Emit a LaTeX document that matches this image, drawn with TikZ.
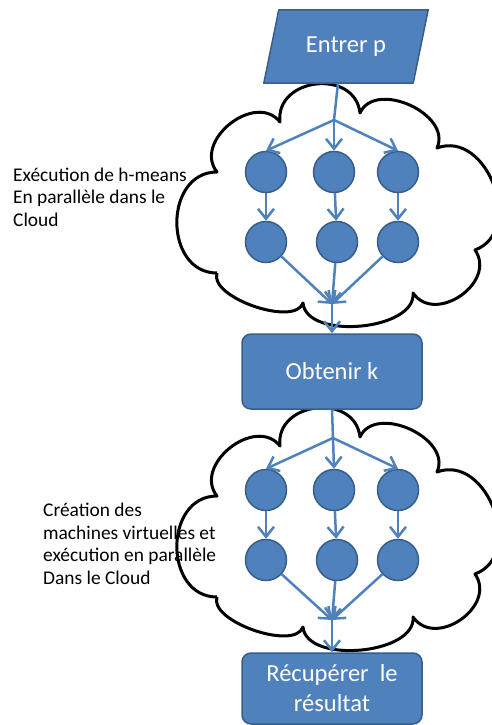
\documentclass[tikz,border=0pt]{standalone}
\usepackage{fontspec}
\setmainfont{Carlito}
\usetikzlibrary{arrows.meta,shapes.geometric}
\definecolor{ofblue}{HTML}{4F81BD}
\definecolor{ofdark}{HTML}{385D8A}
\newcommand\mycloud{%
  (217,273) to[bend left=90,looseness=1.36] (217,172)
  to[bend left=90,looseness=1.26] (280,122)
  to[bend left=90,looseness=1.43] (360,113)
  to[bend left=90,looseness=1.12] (437,148)
  to[bend left=90,looseness=1.26] (475,250)
  to[bend left=90,looseness=1.33] (413,293)
  to[bend left=90,looseness=0.87] (303,303)
  to[bend left=90,looseness=0.72] (217,273)}
\begin{document}
\begin{tikzpicture}[x=1pt,y=-1pt,
  box/.style={draw=ofdark, fill=ofblue, line width=1.5pt, rounded corners=9pt,
    minimum width=180pt, text=white, font=\fontsize{24.5}{30}\selectfont,
    align=center, inner sep=0pt},
  ball/.style={circle, draw=ofdark, fill=ofblue, line width=1.5pt,
    minimum size=41pt, inner sep=0pt},
  shapefill/.style={draw=ofdark, fill=ofblue, line width=1.5pt, line join=round},
  flow/.style={draw=ofblue, line width=2.5pt, -{Straight Barb[length=10pt,width=16pt]}},
  link/.style={draw=ofblue, line width=2.5pt},
  cloudline/.style={draw=black, line width=3pt, line join=round},
  note/.style={font=\fontsize{19.4}{22.5}\selectfont, align=left,
    inner sep=0pt, anchor=base west}]
\useasboundingbox (0,0) rectangle (491,725);

% labels
\node[note] (t1) at (13,226) {Exécution de h-means\\En parallèle dans le\\Cloud};
\node[note] (t2) at (43,584) {Création des\\machines virtuelles et\\exécution en parallèle\\Dans le Cloud};

% clouds
\draw[cloudline] \mycloud;
\begin{scope}[shift={(0,324)}]
\draw[cloudline] \mycloud;
\end{scope}

% input parallelogram
\node[inner sep=0pt, minimum width=149pt, minimum height=73pt,
  text=white, font=\fontsize{24.5}{30}\selectfont] (inp) at (346,46.5) {};
\path[shapefill] ([xshift=-7.5pt]inp.south west) -- ([xshift=-7.5pt]inp.south east)
  -- ([xshift=7.5pt]inp.north east) -- ([xshift=7.5pt]inp.north west) -- cycle;
\node[text=white, font=\fontsize{24.5}{30}\selectfont, inner sep=0pt] (inptext) at (inp.center) {Entrer p};
\coordinate (inpb) at ([xshift=-8pt]inp.south);

% main nodes
\node[box, minimum height=75pt] (ok) at (332,371.5) {Obtenir k};
\node[box, minimum height=71pt] (res) at (332,688.5) {Récupérer\ \ le\\résultat};

% cloud 1 content
\node[ball] (a1) at (266,172) {};
\node[ball] (a2) at (334,172) {};
\node[ball] (a3) at (398,172) {};
\node[ball] (b1) at (266,242) {};
\node[ball] (b2) at (337,242) {};
\node[ball] (b3) at (398,242) {};
\coordinate (s1) at (334,120);
\coordinate (m1) at (332,304);

% cloud 2 content
\node[ball] (c1) at (266,490) {};
\node[ball] (c2) at (334,490) {};
\node[ball] (c3) at (398,490) {};
\node[ball] (d1) at (266,560) {};
\node[ball] (d2) at (337,560) {};
\node[ball] (d3) at (398,560) {};
\coordinate (s2) at (333,438);
\coordinate (m2) at (332,620);

% connectors cloud 1
\draw[link] (inpb) -- (s1);
\draw[flow] (s1) -- (a1.north);
\draw[flow] (s1) -- (a2.north);
\draw[flow] (s1) -- (a3.north);
\draw[flow] (a1) -- (b1);
\draw[flow] (a2) -- (b2);
\draw[flow] (a3) -- (b3);
\draw[flow] (b1) -- (m1);
\draw[flow] (b2) -- (m1);
\draw[flow] (b3) -- (m1);
\draw[flow] (m1) -- (ok);

% connectors cloud 2
\draw[link] (ok.south) -- (s2);
\draw[flow] (s2) -- (c1.north);
\draw[flow] (s2) -- (c2.north);
\draw[flow] (s2) -- (c3.north);
\draw[flow] (c1) -- (d1);
\draw[flow] (c2) -- (d2);
\draw[flow] (c3) -- (d3);
\draw[flow] (d1) -- (m2);
\draw[flow] (d2) -- (m2);
\draw[flow] (d3) -- (m2);
\draw[flow] (m2) -- (res);
\end{tikzpicture}
\end{document}
